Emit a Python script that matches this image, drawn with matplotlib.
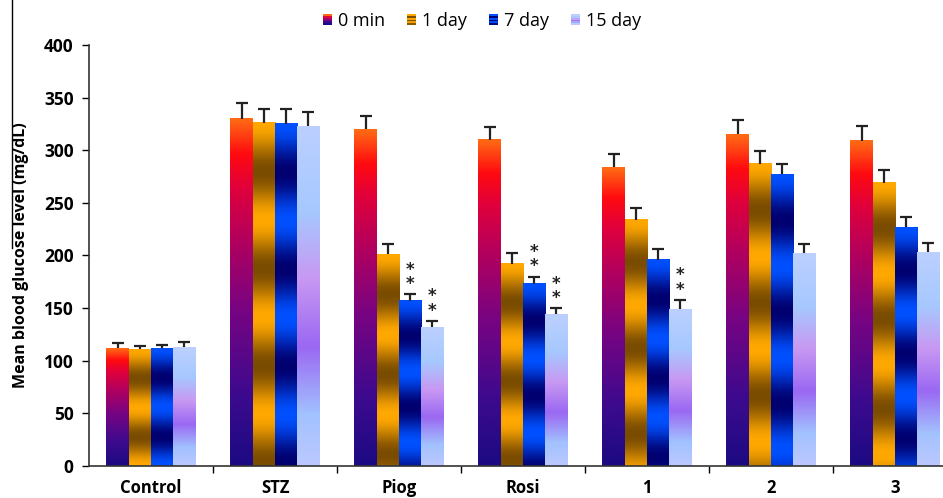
import matplotlib.pyplot as plt
from matplotlib import colors
from matplotlib.legend_handler import HandlerBase
from matplotlib.patches import Rectangle
from matplotlib.lines import Line2D
import numpy as np

plt.rcParams['font.family'] = ['Open Sans', 'DejaVu Sans']

groups = ['Control', 'STZ', 'Piog', 'Rosi', '1', '2', '3']
series = ['0 min', '1 day', '7 day', '15 day']

min0 = [112, 330, 320, 310, 284, 315, 309]
day1 = [111, 326, 201, 192, 234, 287, 269]
day7 = [112, 325, 157, 173, 196, 277, 227]
day15 = [113, 323, 132, 144, 149, 202, 203]

err0 = [5, 15, 13, 12, 12, 14, 14]
err1 = [3, 13, 10, 10, 11, 12, 12]
err7 = [3, 14, 6, 7, 10, 10, 10]
err15 = [5, 13, 6, 6, 9, 9, 9]

stars7 = ['', '', '**', '**', '', '', '']
stars15 = ['', '', '**', '**', '**', '', '']

values = [min0, day1, day7, day15]
errors = [err0, err1, err7, err15]
marks = [None, None, stars7, stars15]

# colour ramps, bottom -> top
ramp_min0 = colors.LinearSegmentedColormap.from_list('m0', [
    (0.0, '#1c0a82'), (0.2, '#3c0a8e'), (0.45, '#780482'),
    (0.65, '#b2005e'), (0.8, '#e0003c'), (0.9, '#ff0a10'), (1.0, '#ff6a14')])
ramp_day15 = colors.LinearSegmentedColormap.from_list('d15', [
    (0.0, '#bcc8ff'), (0.15, '#a2c2ff'), (0.35, '#9a68f2'),
    (0.55, '#c898f2'), (0.75, '#a6c8ff'), (1.0, '#bcd0ff')])
band_day1 = (colors.to_rgb('#7a4c00'), colors.to_rgb('#ffa800'))
band_day7 = (colors.to_rgb('#000070'), colors.to_rgb('#0050ff'))


def gradient(k, h, n=200):
    t = np.linspace(0, 1, n)
    if k == 0:
        rgb = ramp_min0(t)[:, :3]
    elif k == 3:
        rgb = ramp_day15(t)[:, :3]
    else:
        dark, light = band_day1 if k == 1 else band_day7
        cycles = 1.2 + h / 140.0
        w = 0.5 + 0.5 * np.cos(2 * np.pi * cycles * (1 - t))
        rgb = np.outer(1 - w, dark) + np.outer(w, light)
    return rgb.reshape(n, 1, 3)


class GradientHandler(HandlerBase):
    def create_artists(self, legend, orig_handle, xdescent, ydescent,
                       width, height, fontsize, trans):
        k = series.index(orig_handle.get_label())
        img = gradient(k, 200, 6)[:, 0, :]
        out = []
        for i, c in enumerate(img):
            r = Rectangle((-xdescent, -ydescent + i * height / 6), width,
                          height / 6 + 0.2, facecolor=c, edgecolor='none',
                          transform=trans)
            out.append(r)
        return out


fig = plt.figure(figsize=(9.43, 4.98), dpi=100)
ax = fig.add_axes([89 / 943, 32 / 498, 854 / 943, 421 / 498])

x = np.arange(len(groups))
bw = 0.18
for k in range(4):
    pos = x + (k - 1.5) * bw
    tops = np.array(values[k]) + np.array(errors[k])
    for xi, h in zip(pos, values[k]):
        ax.imshow(gradient(k, h), extent=[xi - bw / 2, xi + bw / 2, 0, h],
                  origin='lower', aspect='auto', interpolation='bilinear',
                  zorder=2)
    ax.vlines(pos, values[k], tops, color='#222222', linewidth=1.6, zorder=3)
    ax.plot(pos, tops, linestyle='none', marker='_', markersize=9,
            markeredgewidth=1.6, color='#222222', zorder=3)
    if marks[k] is not None:
        for xi, t, s in zip(pos, tops, marks[k]):
            if s:
                ax.text(xi, t + 1, '\n'.join(s), ha='center', va='bottom',
                        fontsize=12, fontweight='bold', linespacing=0.75,
                        color='#222222', family='DejaVu Sans')

ax.set_xlim(-0.5, -0.5 + 854 / 124)
ax.set_ylim(0, 400)
ax.set_yticks(np.arange(0, 401, 50))
ax.tick_params(axis='y', direction='out', length=5, width=1, labelsize=12.5,
               pad=6)
for lab in ax.get_yticklabels():
    lab.set_fontweight('bold')

ax.set_xticks(np.arange(0.5, 6, 1))
ax.set_xticklabels([])
ax.tick_params(axis='x', which='major', direction='out', length=5, width=1)
ax.set_xticks(x, minor=True)
ax.set_xticklabels(groups, minor=True, fontsize=12, fontweight='bold')
ax.tick_params(axis='x', which='minor', length=0, pad=9)

ax.spines['top'].set_visible(False)
ax.spines['right'].set_visible(False)
for sp in ('left', 'bottom'):
    ax.spines[sp].set_color('#333333')
    ax.spines[sp].set_linewidth(1.2)

ax.set_ylabel('Mean blood glucose level (mg/dL)', fontsize=11.5,
              fontweight='bold')
ax.yaxis.set_label_coords(-60 / 854, 0.5)

handles = [Rectangle((0, 0), 1, 1, label=s) for s in series]
fig.legend(handles=handles, handler_map={Rectangle: GradientHandler()},
           loc='center', bbox_to_anchor=(482 / 943, 1 - 21 / 498), ncol=4,
           frameon=False, fontsize=13, handlelength=0.5,
           handleheight=0.5, handletextpad=0.35, columnspacing=1.2)

fig.add_artist(Line2D([12 / 943, 12 / 943], [1, 1 - 248 / 498],
                      color='black', linewidth=1))

fig.savefig('out.png', dpi=100)
